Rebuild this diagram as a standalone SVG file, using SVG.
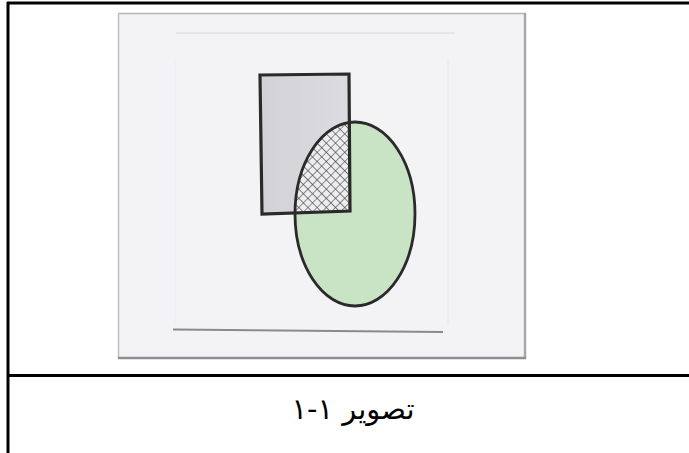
<svg xmlns="http://www.w3.org/2000/svg" width="689" height="453" viewBox="0 0 689 453">
  <style>
    .frame { stroke: #000; stroke-width: 3; fill: none; }
    .outline { stroke: #2a2a2a; fill: none; }
    .caption { font-family: "DejaVu Sans", "Noto Sans", sans-serif; font-size: 29px; fill: #000; }
  </style>
  <defs>
    <pattern id="hatch" width="6.5" height="6.5" patternUnits="userSpaceOnUse" patternTransform="rotate(45)">
      <rect width="6.5" height="6.5" fill="#ededf0"/>
      <path d="M0 0H6.5M0 0V6.5" stroke="#4a4a4a" stroke-width="1.2"/>
    </pattern>
    <clipPath id="ellClip">
      <ellipse cx="355" cy="214" rx="60" ry="92"/>
    </clipPath>
    <linearGradient id="rectGrad" x1="0" y1="0" x2="1" y2="0">
      <stop offset="0" stop-color="#d2d2d6"/>
      <stop offset="1" stop-color="#dcdce0"/>
    </linearGradient>
  </defs>
  <rect width="689" height="453" fill="#fff"/>

  <g id="table-frame">
    <line class="frame" x1="7" y1="3" x2="689" y2="3"/>
    <line class="frame" x1="8" y1="2" x2="8" y2="453"/>
    <line class="frame" x1="7" y1="375.5" x2="689" y2="375.5"/>
  </g>

  <g id="photo">
    <rect x="118" y="13" width="408" height="346" fill="#f3f3f6"/>
    <line x1="118" y1="13.5" x2="526" y2="13.5" stroke="#b5b5b8" stroke-width="1.5"/>
    <line x1="118.5" y1="13" x2="118.5" y2="359" stroke="#c0c0c3" stroke-width="1.5"/>
    <line x1="525" y1="13" x2="525" y2="359" stroke="#a8a8ac" stroke-width="2.5"/>
    <line x1="118" y1="358" x2="526" y2="358" stroke="#8f8f93" stroke-width="2.5"/>
    <line x1="176" y1="33" x2="455" y2="33" stroke="#e2e2e6" stroke-width="1.5"/>
    <line x1="448" y1="60" x2="448" y2="325" stroke="#e8e8ec" stroke-width="1"/>
    <line x1="175" y1="60" x2="175" y2="325" stroke="#eeeef2" stroke-width="1"/>
    <path d="M173 329.5 L443 332" stroke="#8a8a8e" stroke-width="1.8" fill="none"/>
  </g>

  <g id="rectangle">
    <polygon points="260,75 349,74 350,211 262,214" fill="url(#rectGrad)"/>
  </g>

  <g id="ellipse">
    <ellipse cx="355" cy="214" rx="60" ry="92" fill="#c9e4c5"/>
  </g>

  <g id="intersection">
    <polygon points="260,75 349,74 350,211 262,214" fill="url(#hatch)" clip-path="url(#ellClip)"/>
  </g>

  <g id="outlines">
    <ellipse class="outline" cx="355" cy="214" rx="60" ry="92" stroke-width="2.8"/>
    <polygon class="outline" points="260,75 349,74 350,211 262,214" stroke-width="3.2"/>
  </g>

  <g id="caption">
    <text class="caption" x="353" y="419" text-anchor="middle" direction="rtl">تصویر ۱-۱</text>
  </g>
</svg>
